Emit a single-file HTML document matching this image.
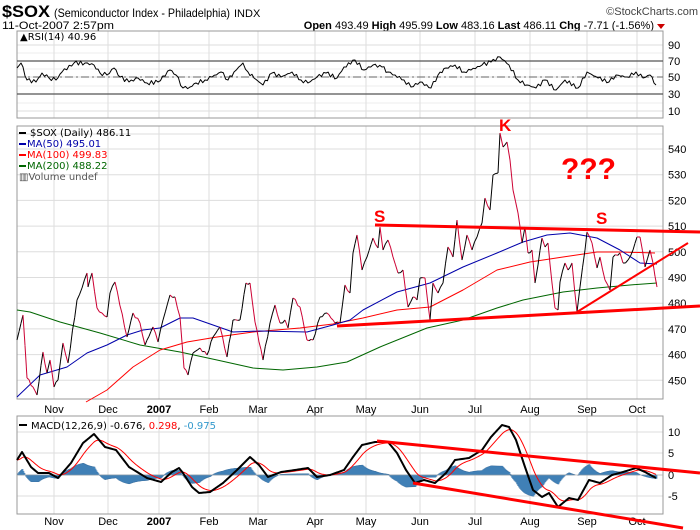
<!DOCTYPE html>
<html><head><meta charset="utf-8">
<style>
body{margin:0;background:#fff;}
svg{display:block;font-family:"Liberation Sans",sans-serif;}
.t{font-family:"DejaVu Sans","Liberation Sans",sans-serif;font-size:10px;}
</style></head>
<body>
<svg id="s" width="700" height="530" xmlns="http://www.w3.org/2000/svg">
<rect width="700" height="530" fill="#fff"/>
<text x="2" y="17" font-size="17" font-weight="bold" textLength="48" lengthAdjust="spacingAndGlyphs">$SOX</text>
<text x="54" y="17" font-size="12" textLength="176" lengthAdjust="spacingAndGlyphs">(Semiconductor Index - Philadelphia)</text>
<text x="234" y="17" font-size="11">INDX</text>
<text x="698" y="15" font-size="11" text-anchor="end" fill="#444">©StockCharts.com</text>
<text x="2" y="29" font-size="11" textLength="112" lengthAdjust="spacingAndGlyphs">11-Oct-2007 2:57pm</text>
<text x="654" y="29" font-size="11" text-anchor="end"><tspan font-weight="bold">Open</tspan> 493.49 <tspan font-weight="bold">High</tspan> 495.99 <tspan font-weight="bold">Low</tspan> 483.16 <tspan font-weight="bold">Last</tspan> 486.11 <tspan font-weight="bold">Chg</tspan> -7.71 (-1.56%)</text>
<polygon points="657,24 665,24 661,29" fill="#c00"/>
<g id="g"></g>
</svg>
<script>
const NS="http://www.w3.org/2000/svg",g=document.getElementById('g');
function el(t,a,txt){const e=document.createElementNS(NS,t);for(const k in a)e.setAttribute(k,a[k]);if(txt!=null)e.textContent=txt;g.appendChild(e);return e;}
function pl(pts,c,w){el('polyline',{points:pts.map(p=>p.join(',')).join(' '),fill:'none',stroke:c,'stroke-width':w||1,'stroke-linejoin':'round'});}
const L=17,R=663;
const months=[[54,'Nov'],[108,'Dec'],[159,'2007'],[209,'Feb'],[258,'Mar'],[315,'Apr'],[366,'May'],[420,'Jun'],[475,'Jul'],[530,'Aug'],[587,'Sep'],[637,'Oct']];
const panels=[[31,118],[126,399],[416,514]];
[45,61,77,94,111].forEach(y=>el('line',{x1:L,x2:R,y1:y,y2:y,stroke:'#ddd'}));
[53,69,86,103].forEach(y=>el('line',{x1:L,x2:R,y1:y,y2:y,stroke:'#eee'}));
for(let p=450;p<=540;p+=10){const y=149+(540-p)*2.57;el('line',{x1:L,x2:R,y1:y,y2:y,stroke:'#ddd'});el('text',{x:668,y:y+4,'font-size':11},String(p));}
el('line',{x1:L,x2:R,y1:134,y2:134,stroke:'#ddd'});
[[432,'10'],[453,'5'],[475,'0'],[496,'-5']].forEach(a=>{el('line',{x1:L,x2:R,y1:a[0],y2:a[0],stroke:'#ddd'});el('text',{x:668,y:a[0]+4,'font-size':11},a[1]);});
panels.forEach(p=>months.forEach(m=>el('line',{x1:m[0],x2:m[0],y1:p[0],y2:p[1],stroke:'#ddd'})));
panels.forEach(p=>{el('rect',{x:L,y:p[0],width:R-L,height:p[1]-p[0],fill:'none',stroke:'#999'});});
[[409],[521]].forEach(a=>months.forEach(m=>el('text',{x:m[0],y:a[0]+4,'font-size':11,'text-anchor':'middle','font-weight':m[1]=='2007'?'bold':'normal'},m[1])));
[[45,'90'],[61,'70'],[77,'50'],[94,'30'],[111,'10']].forEach(a=>el('text',{x:668,y:a[0]+4,'font-size':11},a[1]));
el('line',{x1:L,x2:R,y1:61,y2:61,stroke:'#555','stroke-width':1.2});
el('line',{x1:L,x2:R,y1:94,y2:94,stroke:'#555','stroke-width':1.2});
el('line',{x1:L,x2:R,y1:77,y2:77,stroke:'#666','stroke-dasharray':'8,3,2,3'});
const rsi=[[17,68],[21,63],[27,80],[36,82],[42,73],[49,78],[56,80],[62,72],[74,63],[85,63],[94,65],[100,73],[107,75],[114,68],[120,77],[129,82],[138,78],[147,83],[158,82],[170,70],[176,75],[183,88],[190,87],[196,83],[205,80],[212,77],[221,72],[228,80],[234,72],[243,63],[248,72],[254,78],[263,85],[272,73],[281,77],[292,72],[301,80],[308,83],[317,77],[326,73],[337,78],[344,67],[355,60],[364,70],[373,65],[382,67],[388,72],[395,75],[404,80],[411,87],[420,82],[431,88],[438,75],[446,68],[455,65],[464,72],[471,70],[482,65],[491,62],[500,57],[509,65],[518,80],[527,85],[536,88],[545,80],[556,90],[565,80],[578,88],[587,72],[598,78],[609,82],[616,75],[627,77],[636,72],[643,78],[650,75],[656,85]];
function jit(a,amp){const o=[];for(let i=0;i<a.length-1;i++){const[x1,y1]=a[i],[x2,y2]=a[i+1];const n=Math.max(1,Math.round((x2-x1)/2.2));for(let k=0;k<n;k++){const t=k/n;o.push([x1+(x2-x1)*t,y1+(y2-y1)*t+(k?(Math.sin(i*7.3+k*3.1)*amp):0)]);}}o.push(a[a.length-1]);return o;}
pl(jit(rsi,2),'#000',1);
el('text',{x:20,y:40,class:'t'},'▲RSI(14) 40.96');
const pr=[[17,340],[23,315],[27,378],[33,387],[37,395],[43,352],[47,373],[50,360],[54,387],[58,380],[63,343],[68,363],[77,300],[82,288],[87,273],[88,287],[92,273],[97,308],[102,313],[107,317],[110,293],[115,282],[127,337],[133,313],[140,323],[145,345],[153,327],[158,342],[163,320],[170,295],[175,297],[180,317],[184,368],[188,375],[193,353],[200,348],[207,355],[213,337],[220,327],[227,357],[233,320],[240,320],[246,283],[250,283],[255,322],[263,360],[270,323],[275,305],[280,323],[285,320],[288,328],[293,298],[300,307],[307,340],[313,340],[320,317],[327,313],[333,320],[335,323],[340,323],[345,285],[350,293],[353,253],[357,235],[362,270],[367,257],[373,238],[378,248],[380,227],[383,250],[388,240],[393,257],[398,273],[403,270],[408,307],[413,297],[417,300],[420,278],[425,278],[430,320],[433,283],[438,293],[443,283],[448,247],[453,257],[457,220],[462,260],[467,235],[472,250],[477,237],[482,223],[485,198],[490,210],[493,175],[498,173],[500,133],[503,147],[507,142],[510,160],[513,190],[518,213],[522,243],[525,227],[528,253],[532,250],[535,283],[538,265],[542,238],[545,247],[548,243],[552,283],[555,308],[558,310],[560,282],[565,263],[568,270],[572,263],[577,312],[580,287],[585,250],[587,232],[592,243],[597,268],[600,257],[605,280],[610,290],[613,257],[620,253],[623,263],[628,260],[633,250],[637,237],[640,237],[645,267],[650,250],[653,263],[657,287]];
const pj=jit(pr,1.5);
pl([[17,310],[30,312],[60,322],[100,333],[140,345],[180,352],[217,360],[253,368],[283,370],[317,367],[347,362],[380,347],[427,328],[463,320],[497,308],[523,300],[563,292],[597,288],[630,285],[657,283]],'#060',1);
pl([[86,402],[107,390],[133,367],[160,350],[187,342],[217,337],[253,332],[300,328],[333,324],[363,318],[397,310],[430,307],[463,290],[497,270],[530,262],[563,257],[597,252],[620,252],[655,253]],'#f00',1);
pl([[17,397],[40,375],[67,367],[87,353],[107,345],[127,335],[143,330],[160,328],[180,318],[193,318],[213,325],[233,332],[260,331],[307,332],[333,325],[350,320],[363,310],[397,292],[430,283],[463,267],[497,253],[523,242],[547,235],[570,233],[597,238],[620,250],[640,263],[657,264]],'#00a',1);
for(let i=0;i<pj.length-1;i++){const a=pj[i],b=pj[i+1];el('line',{x1:a[0],y1:a[1],x2:b[0],y2:b[1],stroke:b[1]<a[1]?'#000':'#c03','stroke-width':1});}
el('line',{x1:375,y1:225,x2:700,y2:232,stroke:'#f00','stroke-width':3});
el('line',{x1:337,y1:326,x2:700,y2:306,stroke:'#f00','stroke-width':3});
el('line',{x1:577,y1:312,x2:688,y2:243,stroke:'#f00','stroke-width':2});
el('text',{x:374,y:222,'font-size':17,'font-weight':'bold',fill:'#f00'},'S');
el('text',{x:596,y:224,'font-size':17,'font-weight':'bold',fill:'#f00'},'S');
el('text',{x:499,y:131,'font-size':17,'font-weight':'bold',fill:'#f00'},'K');
el('text',{x:561,y:179,'font-size':30,'font-weight':'bold',fill:'#f00'},'???');
el('rect',{x:19,y:132,width:7,height:2,fill:'#000'});el('text',{x:30,y:136,class:'t'},'$SOX (Daily) 486.11');
el('rect',{x:19,y:143,width:7,height:2,fill:'#00a'});el('text',{x:27,y:147,class:'t',fill:'#00a'},'MA(50) 495.01');
el('rect',{x:19,y:154,width:7,height:2,fill:'#f00'});el('text',{x:27,y:158,class:'t',fill:'#f00'},'MA(100) 499.83');
el('rect',{x:19,y:165,width:7,height:2,fill:'#060'});el('text',{x:27,y:169,class:'t',fill:'#060'},'MA(200) 488.22');
el('text',{x:19,y:180,class:'t',fill:'#555'},'▥Volume undef');
const mc=[[17,460],[22,452],[31,467],[38,473],[49,473],[58,478],[71,463],[83,443],[94,434],[105,447],[116,450],[129,467],[147,478],[161,482],[172,472],[179,468],[183,473],[192,487],[199,493],[210,492],[223,483],[237,470],[250,457],[259,465],[268,477],[281,472],[295,470],[308,468],[317,477],[330,475],[344,470],[353,457],[362,445],[375,442],[388,442],[397,453],[406,470],[415,483],[424,480],[435,483],[446,473],[455,460],[469,458],[482,450],[491,437],[502,425],[509,427],[516,440],[525,467],[533,490],[542,497],[549,493],[558,507],[569,498],[578,500],[589,480],[600,483],[612,475],[623,472],[636,468],[645,472],[656,478]];
const m=[];for(let i=0;i<mc.length-1;i++){const[x1,y1]=mc[i],[x2,y2]=mc[i+1];for(let x=Math.ceil(x1);x<x2;x++)m.push([x,y1+(y2-y1)*(x-x1)/(x2-x1)]);}m.push([656,478]);
const sig=[];let e=m[0][1];m.forEach(p=>{e=e+(p[1]-e)*0.11;sig.push([p[0],e]);});
m.forEach((p,i)=>{const h=(sig[i][1]-p[1])*1.0;const y0=475;const top=Math.min(y0,y0-h),ht=Math.abs(h);if(ht>0.3)el('rect',{x:p[0]-0.5,y:top,width:1.6,height:ht,fill:'#4a8fc8',stroke:'#2a5f90','stroke-width':0.3});});
el('line',{x1:L,x2:R,y1:475,y2:475,stroke:'#aaa','stroke-width':0.5});
pl(sig,'#f00',1);
pl(m,'#000',2);
el('line',{x1:377,y1:441,x2:700,y2:473,stroke:'#f00','stroke-width':3});
el('line',{x1:413,y1:483,x2:683,y2:528,stroke:'#f00','stroke-width':3});
el('rect',{x:19,y:424,width:8,height:2,fill:'#000'});
const tx=el('text',{x:31,y:429,class:'t'});tx.innerHTML='MACD(12,26,9) -0.676, <tspan fill="#f00">0.298</tspan>, <tspan fill="#39c">-0.975</tspan>';
</script>
</body></html>
